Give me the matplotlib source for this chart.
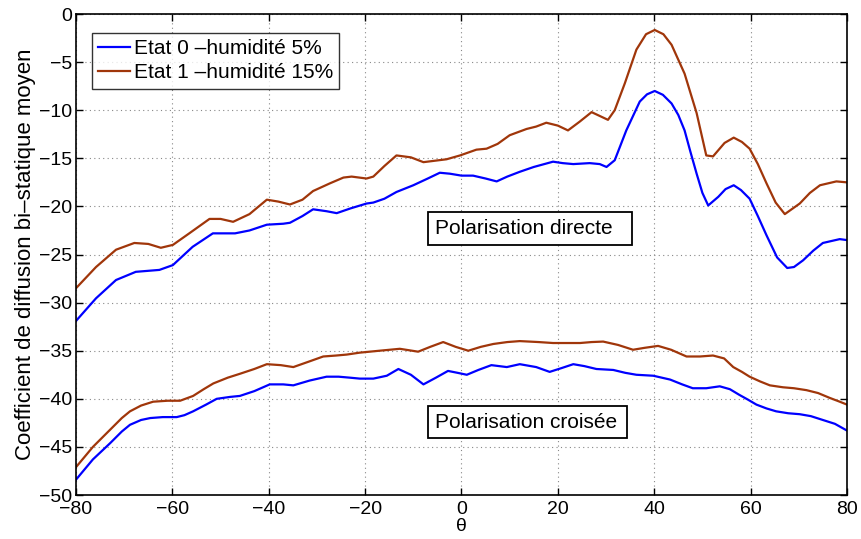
import numpy as np
import matplotlib
matplotlib.use("Agg")
import matplotlib.pyplot as plt
from matplotlib.patches import Rectangle

plt.rcParams['font.family'] = ['Liberation Sans', 'DejaVu Sans']

# Polarisation directe, état 0 (humidité 5%)
theta_d0 = [-80, -75.85, -71.7, -67.6, -62.7, -59.9, -55.8, -51.6, -47, -44, -40.4, -37, -35.6, -33,
            -30.8, -28, -25.9, -23, -19.7, -18.3, -16, -13.5, -10, -7, -4.5, -2.4, 0, 2.4, 5, 7.3, 9.5,
            12.1, 15, 19, 21, 23.2, 26.6, 28.7, 30.1, 31.8, 34.2, 37.0, 38.5, 40.1, 41.8, 43.6, 45,
            46.3, 47.5, 48.8, 50, 51.2, 53.3, 54.8, 56.5, 58, 59.8, 61.5, 63.3, 65.5, 67.6, 69, 70.9,
            73, 75.0, 78.5, 80]
db_d0 = [-31.9, -29.55, -27.65, -26.8, -26.6, -26.1, -24.2, -22.8, -22.8, -22.5, -21.9, -21.8, -21.7,
         -21.0, -20.3, -20.5, -20.7, -20.2, -19.7, -19.6, -19.2, -18.5, -17.8, -17.1, -16.5, -16.6,
         -16.8, -16.8, -17.1, -17.4, -16.9, -16.4, -15.9, -15.35, -15.5, -15.6, -15.5, -15.6, -15.9,
         -15.2, -12.1, -9.1, -8.35, -8.0, -8.4, -9.3, -10.5, -12.1, -14.3, -16.6, -18.6, -19.9, -19.0,
         -18.2, -17.8, -18.3, -19.2, -21.0, -23.0, -25.3, -26.4, -26.3, -25.6, -24.6, -23.8, -23.4,
         -23.5]

# Polarisation directe, état 1 (humidité 15%)
theta_d1 = [-80, -75.85, -71.7, -67.9, -65, -62.4, -59.9, -56.5, -52.3, -50, -47.4, -44, -40.4, -38,
            -35.6, -33, -30.8, -27.3, -24.5, -22.8, -19.7, -18.3, -16, -13.5, -10.5, -7.9, -3.1, -0.3,
            3.1, 5.2, 7.5, 10.0, 13.5, 15.5, 17.6, 20, 22.1, 24.5, 27.0, 28.7, 30.4, 31.8, 33.9, 36.3,
            38.3, 40.1, 41.9, 43.6, 46.3, 48.8, 50.8, 52.2, 54.6, 56.5, 58.2, 59.8, 61.5, 63.3, 65.2,
            67.1, 70.2, 72.3, 74.4, 77.8, 80]
db_d1 = [-28.5, -26.3, -24.5, -23.8, -23.9, -24.3, -24.0, -22.8, -21.3, -21.3, -21.6, -20.8, -19.3,
         -19.5, -19.8, -19.3, -18.4, -17.6, -17.0, -16.9, -17.1, -16.9, -15.8, -14.7, -14.9, -15.4,
         -15.1, -14.7, -14.1, -14.0, -13.5, -12.6, -11.95, -11.7, -11.3, -11.6, -12.1, -11.2, -10.2,
         -10.6, -11.0, -10.0, -7.2, -3.7, -2.1, -1.66, -2.1, -3.2, -6.2, -10.3, -14.7, -14.8, -13.4,
         -12.85, -13.3, -14.0, -15.6, -17.6, -19.6, -20.8, -19.7, -18.6, -17.8, -17.4, -17.5]

# Polarisation croisée, état 0
theta_c0 = [-80, -76.5, -72.9, -70.5, -68.8, -66.5, -64.6, -62, -59.1, -57.5, -55.7, -53, -50.8, -48,
            -46.0, -43, -39.8, -37, -34.9, -31.5, -28.0, -25.5, -23.2, -21.1, -18.3, -15.5, -13.1,
            -10.5, -7.9, -5.3, -2.8, -0.8, 1.1, 3.5, 6.2, 9.4, 12.1, 15.5, 18.3, 20.8, 23.2, 25.5,
            28.0, 31.5, 34, 36.3, 39.8, 43.3, 45.8, 48.0, 50.8, 53.6, 55.7, 57.7, 59.5, 61.2, 63.3,
            65.3, 67.8, 70.2, 72.5, 75.0, 77.5, 80]
db_c0 = [-48.4, -46.3, -44.6, -43.4, -42.7, -42.2, -42.0, -41.9, -41.9, -41.7, -41.3, -40.6, -40.0,
         -39.8, -39.7, -39.2, -38.5, -38.5, -38.6, -38.1, -37.7, -37.7, -37.8, -37.9, -37.9, -37.6,
         -36.9, -37.5, -38.5, -37.8, -37.1, -37.3, -37.5, -37.0, -36.5, -36.7, -36.4, -36.7, -37.2,
         -36.8, -36.4, -36.6, -36.9, -37.0, -37.3, -37.5, -37.6, -38.0, -38.5, -38.9, -38.9, -38.7,
         -39.0, -39.6, -40.1, -40.6, -41.0, -41.3, -41.5, -41.6, -41.8, -42.2, -42.6, -43.3]

# Polarisation croisée, état 1
theta_c1 = [-80, -76.5, -72.9, -70.5, -68.8, -66.5, -64.0, -61, -58.4, -55.7, -53.5, -51.5, -48.5,
            -46.0, -43, -40.4, -37.5, -34.9, -31.5, -28.7, -26, -23.8, -21.1, -17, -12.8, -9.0, -6.5,
            -3.8, -1.2, 1.4, 4, 6.6, 9.5, 12.1, 16, 19.0, 22, 24.6, 27, 29.4, 32.5, 35.6, 38, 40.8,
            43.5, 46.7, 49.5, 52.2, 54.5, 56.4, 58.2, 59.8, 62, 64.0, 66.7, 69, 71.6, 74, 76.4, 78.5,
            80]
db_c1 = [-47.1, -45.0, -43.2, -42.0, -41.3, -40.7, -40.3, -40.2, -40.2, -39.7, -39.0, -38.4, -37.8,
         -37.4, -36.9, -36.4, -36.5, -36.7, -36.1, -35.6, -35.5, -35.4, -35.2, -35.0, -34.8, -35.1,
         -34.6, -34.1, -34.6, -35.0, -34.6, -34.3, -34.1, -34.0, -34.1, -34.2, -34.2, -34.2, -34.1,
         -34.05, -34.4, -34.9, -34.7, -34.5, -34.9, -35.6, -35.6, -35.5, -35.8, -36.7, -37.2, -37.7,
         -38.2, -38.6, -38.8, -38.9, -39.1, -39.4, -39.9, -40.3, -40.6]

series_labels = ['Etat 0 \u2013humidité 5%', 'Etat 1 \u2013humidité 15%']
xticks = list(range(-80, 81, 20))
yticks = list(range(-50, 1, 5))

blue = '#0000FF'
brown = '#A0360A'
lw = 1.6

fig = plt.figure(figsize=(8.61, 5.39), dpi=100)
ax = fig.add_axes([0.0883, 0.0816, 0.8954, 0.8924])

l0, = ax.plot(theta_d0, db_d0, color=blue, linewidth=lw, solid_joinstyle='round')
l1, = ax.plot(theta_d1, db_d1, color=brown, linewidth=lw, solid_joinstyle='round')
ax.plot(theta_c0, db_c0, color=blue, linewidth=lw, solid_joinstyle='round')
ax.plot(theta_c1, db_c1, color=brown, linewidth=lw, solid_joinstyle='round')

ax.set_xlim(-80, 80)
ax.set_ylim(-50, 0)
ax.set_xticks(xticks)
ax.set_yticks(yticks)
ax.set_xticklabels([str(t).replace('-', '\u2212') for t in xticks])
ax.set_yticklabels([str(t).replace('-', '\u2212') for t in yticks])
ax.tick_params(direction='in', top=True, right=True, labelsize=14, length=5, width=1, pad=3)
ax.tick_params(axis='x', pad=4)
ax.grid(True, linestyle=(0, (1, 3)), color='#888888', linewidth=0.8)
for s in ax.spines.values():
    s.set_linewidth(1.2)

ax.set_xlabel('\u03b8', fontsize=14, labelpad=0)
ax.set_ylabel('Coefficient de diffusion bi\u2013statique moyen', fontsize=16, labelpad=2)

leg = ax.legend([l0, l1], series_labels,
                loc='upper left', bbox_to_anchor=(0.0208, 0.9605), fontsize=15, frameon=True,
                fancybox=False, handlelength=1.5, handletextpad=0.2, borderpad=0.3,
                labelspacing=0.25, borderaxespad=0)
leg.get_frame().set_edgecolor('black')
leg.get_frame().set_linewidth(1.0)

# annotation boxes (left, right, bottom, top in data units)
for label, (x0, x1, y0, y1) in [('Polarisation directe', (-6.97, 35.35, -24.0, -20.6)),
                                 ('Polarisation croisée', (-6.97, 34.3, -44.1, -40.75))]:
    ax.add_patch(Rectangle((x0, y0), x1 - x0, y1 - y0, facecolor='white', edgecolor='black',
                           linewidth=1.3, zorder=4))
    ax.text(x0 + 1.45, (y0 + y1) / 2, label, fontsize=15, va='center', ha='left', zorder=5)

fig.savefig('out.png', dpi=100)
